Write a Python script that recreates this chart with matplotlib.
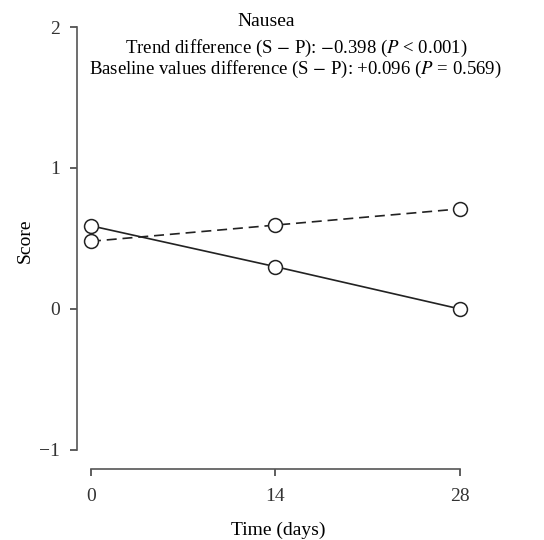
import matplotlib
matplotlib.use("Agg")
import matplotlib.pyplot as plt

days = [0, 14, 28]
solid_scores = [0.59, 0.30, 0.00]
dashed_scores = [0.48, 0.595, 0.71]
yticks = [-1, 0, 1, 2]

plt.rcParams['font.family'] = ['Liberation Serif', 'DejaVu Serif']
plt.rcParams['mathtext.fontset'] = 'stix'

fig = plt.figure(figsize=(5.44, 5.40), dpi=100)
ax = fig.add_axes([0.1415, 0.1315, 0.7404, 0.8446])

col = '#222222'
ax.plot(days, solid_scores, '-', color=col, lw=1.2, marker='o', ms=10,
        mfc='white', mec=col, mew=1.1, zorder=3)
ax.plot(days, dashed_scores, '--', color=col, lw=1.2, dashes=(6, 3.5), marker='o', ms=10,
        mfc='white', mec=col, mew=1.1, zorder=3)

ax.set_xlim(-1.06, 29.5)
ax.set_ylim(-1.135, 2.1)
ax.set_xticks(days)
ax.set_yticks(yticks)
ax.set_yticklabels(['\u22121', '0', '1', '2'])
ax.spines['top'].set_visible(False)
ax.spines['right'].set_visible(False)
ax.spines['left'].set_bounds(-1, 2)
ax.spines['bottom'].set_bounds(0, 28)
for s in ['left', 'bottom']:
    ax.spines[s].set_color('#555555')
    ax.spines[s].set_linewidth(1.2)
ax.tick_params(colors='#333333', labelsize=14, length=5, width=1.1)
ax.tick_params(axis='y', pad=7)
ax.tick_params(axis='x', pad=9)

ax.set_xlabel('Time (days)', fontsize=14, labelpad=12)
ax.set_ylabel('Score', fontsize=14, labelpad=4)

fig.text(0.49, 0.960, 'Nausea', ha='center', va='center', fontsize=14)
fig.text(0.545, 0.910, r'Trend difference (S $-$ P): $-$0.398 ($P$ < 0.001)',
         ha='center', va='center', fontsize=13.5)
fig.text(0.543, 0.871, r'Baseline values difference (S $-$ P): +0.096 ($P$ = 0.569)',
         ha='center', va='center', fontsize=13.5)

fig.savefig('out.png', dpi=100)
